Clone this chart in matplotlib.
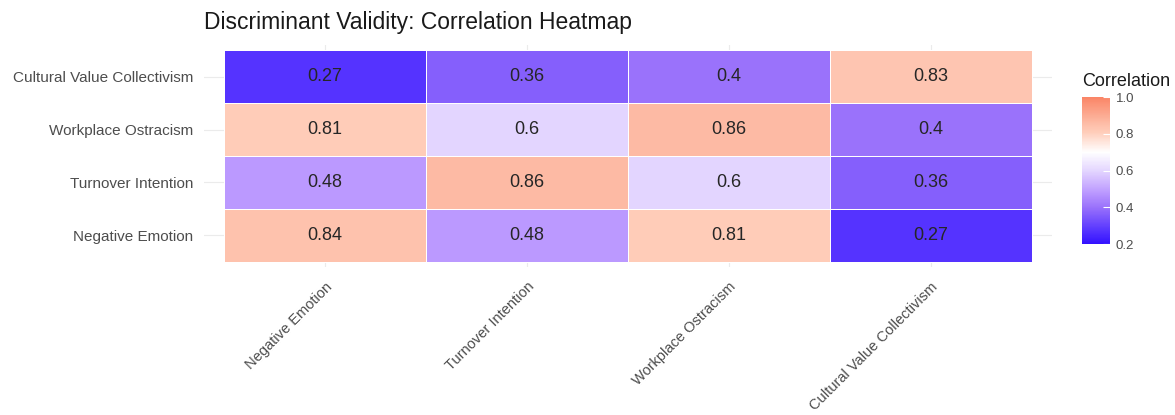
import matplotlib
matplotlib.use("Agg")
import matplotlib.pyplot as plt
from matplotlib.colors import LinearSegmentedColormap, Normalize
from matplotlib.cm import ScalarMappable
import numpy as np

plt.rcParams['font.family'] = ['Liberation Sans', 'DejaVu Sans']

# variables, bottom row first (same order on the x axis)
variables = ["Negative Emotion", "Turnover Intention", "Workplace Ostracism", "Cultural Value Collectivism"]

# correlation values, one list per row (bottom -> top)
row_negative = [0.84, 0.48, 0.81, 0.27]
row_turnover = [0.48, 0.86, 0.60, 0.36]
row_ostracism = [0.81, 0.60, 0.86, 0.40]
row_collectivism = [0.27, 0.36, 0.40, 0.83]

legend_ticks = [0.2, 0.4, 0.6, 0.8, 1.0]

corr = np.array([row_negative, row_turnover, row_ostracism, row_collectivism])

# blue -> white -> salmon, white roughly at 0.7
cmap = LinearSegmentedColormap.from_list("bwr_gg", [
    (0.0, "#3311FF"),
    (0.0875, "#5533FF"),
    (0.25, "#9A72FB"),
    (0.35, "#BB99FF"),
    (0.5, "#E4D6FF"),
    (0.625, "#FFFFFF"),
    (0.76, "#FFCDBA"),
    (0.825, "#FDBBA5"),
    (1.0, "#FA8566"),
])
norm = Normalize(vmin=0.2, vmax=1.0)

fig = plt.figure(figsize=(11.75, 4.15), dpi=100)
ax = fig.add_axes([204 / 1175, 1 - 267 / 415, 848 / 1175, 222 / 415])

n = len(variables)
edges = np.arange(n + 1) - 0.5
ax.pcolormesh(edges, edges, corr, cmap=cmap, norm=norm,
              edgecolor="white", linewidth=0.6, zorder=2)

for i in range(n):
    for j in range(n):
        ax.text(j, i, f"{corr[i, j]:g}", ha="center", va="center",
                fontsize=13, color="#262626", zorder=3)

ax.set_xlim(-0.6, n - 0.4)
ax.set_ylim(-0.6, n - 0.4)
ax.set_xticks(range(n))
ax.set_yticks(range(n))
ax.set_xticklabels(variables, rotation=45, ha="right", va="top",
                   rotation_mode="anchor", fontsize=10.5, color="#4D4D4D")
ax.set_yticklabels(variables, fontsize=11, color="#4D4D4D")
ax.tick_params(axis="y", length=0, pad=8)
ax.tick_params(axis="x", length=0, pad=9)
ax.grid(True, color="#EBEBEB", linewidth=0.8, zorder=0)
ax.set_axisbelow(True)
for s in ax.spines.values():
    s.set_visible(False)

fig.text(204 / 1175, 1 - 23 / 415, "Discriminant Validity: Correlation Heatmap",
         ha="left", va="center", fontsize=16.5, color="#1A1A1A")

# colour bar legend
cax = fig.add_axes([1082 / 1175, 1 - 244 / 415, 28 / 1175, 147 / 415])
cb = fig.colorbar(ScalarMappable(norm=norm, cmap=cmap), cax=cax, ticks=legend_ticks)
cb.outline.set_visible(False)
cb.ax.set_yticklabels([f"{t:.1f}" for t in legend_ticks], fontsize=9.5, color="#4D4D4D")
cb.ax.tick_params(length=5, width=0.8, color="white", direction="in", pad=4)
fig.text(1082 / 1175, 1 - 82 / 415, "Correlation", ha="left", va="center",
         fontsize=13, color="#1A1A1A")

fig.savefig("out.png", dpi=100)
